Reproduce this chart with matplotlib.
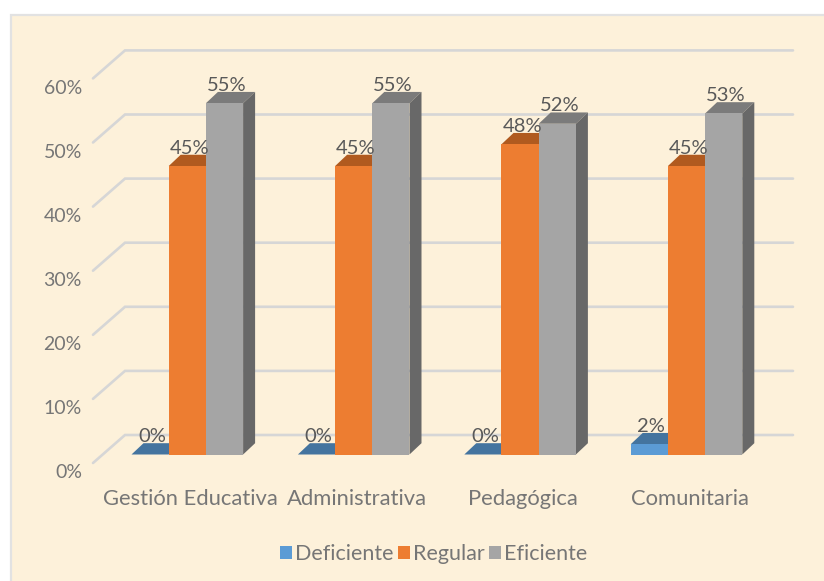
import matplotlib
matplotlib.use("Agg")
import matplotlib.pyplot as plt
from matplotlib.patches import Rectangle
from matplotlib.transforms import ScaledTranslation
import numpy as np

categories = ["Gestión Educativa", "Administrativa", "Pedagógica", "Comunitaria"]
series_names = ["Deficiente", "Regular", "Eficiente"]
deficiente = [0.0, 0.0, 0.0, 1.6]
regular = [45.0, 45.0, 48.4, 45.0]
eficiente = [54.8, 54.8, 51.6, 53.2]
yticks = [0, 10, 20, 30, 40, 50, 60]

front_cols = ["#5B9BD5", "#ED7D31", "#A5A5A5"]
top_cols = ["#44749F", "#B05A1F", "#7B7B7B"]
side_cols = ["#3F6C94", "#A8551D", "#686868"]

W, H = 824, 581
plt.rcParams["font.family"] = ["Lato", "DejaVu Sans"]
fig = plt.figure(figsize=(W / 100, H / 100), dpi=100, facecolor="white")

# panel background (right and bottom edges run off the picture)
bg = Rectangle((11 / W, -0.02), (W - 11) / W + 0.04, (H - 15) / H + 0.02, transform=fig.transFigure,
               facecolor="#FDF1DA", edgecolor="#E2E2E2", linewidth=1.6, zorder=-5)
fig.add_artist(bg)

PX_CAT = 166.4
PX_PCT = 6.41
X0 = 187.3
Y0 = 454.5
L, R = 93, 793
ax = fig.add_axes([L / W, (H - Y0) / H, (R - L) / W, Y0 / H])
ax.patch.set_alpha(0)
ax.set_xlim((L - X0) / PX_CAT, (R - X0) / PX_CAT)
ax.set_ylim(0, Y0 / PX_PCT)
for s in ax.spines.values():
    s.set_visible(False)

# depth offsets
bar_dx = 12 / PX_CAT
bar_dy = 11.3 / PX_PCT
wall_back_dy = 19.5 / PX_PCT
wall_front_dy = -8.5 / PX_PCT
wall_back_x = (125 - X0) / PX_CAT
wall_front_x = (93 - X0) / PX_CAT
wall_right_x = (R - X0) / PX_CAT

for v in yticks:
    ax.plot([wall_front_x, wall_back_x, wall_right_x],
            [v + wall_front_dy, v + wall_back_dy, v + wall_back_dy],
            color="#D6D6D6", lw=1.9, clip_on=False, zorder=1,
            solid_joinstyle="miter", solid_capstyle="round")

w = 37.2 / PX_CAT
x = np.arange(len(categories))
series = [deficiente, regular, eficiente]
z = 2
for i, vals in enumerate(series):
    xs = x + (i - 1) * w
    for xc, v in zip(xs, vals):
        l, r = xc - w / 2, xc + w / 2
        ax.fill([l, r, r + bar_dx, l + bar_dx], [v, v, v + bar_dy, v + bar_dy],
                color=top_cols[i], lw=0, zorder=z, clip_on=False)
        ax.fill([r, r + bar_dx, r + bar_dx, r], [0, bar_dy, v + bar_dy, v],
                color=side_cols[i], lw=0, zorder=z, clip_on=False)
    ax.bar(xs, vals, width=w, color=front_cols[i], zorder=z + 0.5, label=series_names[i],
           linewidth=0)
    z += 1
    for xc, v in zip(xs, vals):
        ax.annotate(f"{v:.0f}%", (xc + bar_dx / 2, v + bar_dy), xytext=(-4, 1),
                    textcoords="offset pixels", ha="center", va="baseline",
                    fontsize=14.5, color="#595959", zorder=10, annotation_clip=False)

ax.set_xticks(x, categories)
ax.set_yticks(yticks, [f"{v}%" for v in yticks])
ax.tick_params(axis="both", length=0, labelcolor="#767676")
ax.tick_params(axis="x", pad=25, labelsize=15.8)
ax.tick_params(axis="y", pad=8, labelsize=14)
off_y = ScaledTranslation(0, -17 / 100, fig.dpi_scale_trans)
for lab in ax.get_yticklabels():
    lab.set_transform(lab.get_transform() + off_y)
off_x = ScaledTranslation(3 / 100, 0, fig.dpi_scale_trans)
for lab in ax.get_xticklabels():
    lab.set_transform(lab.get_transform() + off_x)

handles, labels = ax.get_legend_handles_labels()
leg = ax.legend(handles, labels, loc="center", ncol=3, frameon=False,
                bbox_to_anchor=(434 / W, (H - 554) / H), bbox_transform=fig.transFigure,
                fontsize=15.5, labelcolor="#767676", handlelength=0.55, handleheight=0.55,
                handletextpad=0.15, columnspacing=0.2, borderpad=0, borderaxespad=0)

fig.savefig("out.png", dpi=100)
